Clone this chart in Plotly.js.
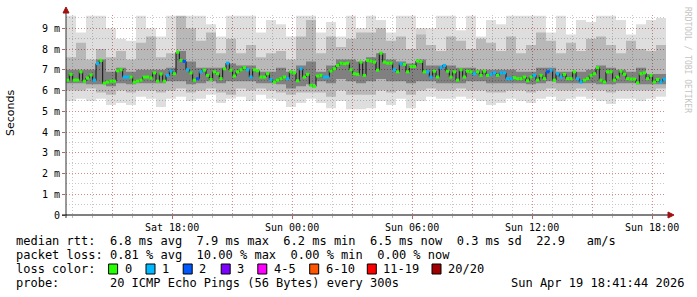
<!DOCTYPE html>
<html><head><meta charset="utf-8">
<script src="https://cdn.plot.ly/plotly-3.0.1.min.js"></script>
<style>html,body{margin:0;padding:0;background:#fff}#chart{width:697px;height:297px}</style>
</head><body><div id="chart"></div>
<script>
// ---- data ----
const startTime = Date.UTC(2026,3,18,12,41,44);
const endTime = Date.UTC(2026,3,19,18,41,44);
const medianStepMs = 600000;   // 10 min
const smokeStepMs = 1800000;   // 30 min

const medianRtt = [
 6.5,6.78,6.5,6.5,6.9,6.45,6.6,6.75,6.5,7.3,
 7.45,6.35,6.4,6.45,6.45,6.95,7.0,6.65,6.65,6.65,
 6.4,6.45,6.5,6.65,6.65,6.6,6.85,6.45,6.8,6.45,
 6.73,6.94,6.81,7.85,7.45,7.4,7.0,6.85,6.5,6.57,
 6.9,6.98,6.73,6.53,6.9,6.81,6.57,7.05,7.32,6.98,
 6.7,6.9,7.0,7.1,7.0,6.65,7.0,6.95,6.65,6.65,
 6.81,6.53,6.41,6.5,6.57,6.65,6.57,6.9,6.85,6.47,
 7.05,6.65,6.78,6.25,6.2,6.7,6.73,6.65,6.65,6.94,
 7.05,7.21,7.32,7.29,7.32,7.0,6.81,6.78,7.37,6.73,
 7.45,7.42,7.37,6.98,7.8,7.37,7.32,7.32,7.0,6.9,
 7.29,7.26,6.9,7.16,7.16,7.42,7.4,6.9,6.9,6.65,
 6.93,6.65,7.1,7.21,6.93,6.65,6.9,6.5,7.0,6.65,
 6.93,6.9,6.81,6.9,6.73,6.93,6.73,6.78,6.85,6.73,
 6.85,6.85,6.57,6.57,6.62,6.57,6.57,6.65,6.47,6.65,
 6.73,6.5,6.73,6.57,6.9,6.98,6.5,6.81,6.65,6.78,
 6.57,6.57,6.9,6.57,6.41,6.5,6.57,6.73,6.81,7.1,
 6.5,6.41,6.9,6.9,6.5,6.65,6.93,6.78,6.57,6.55,
 6.55,6.37,6.81,6.85,6.57,6.73,6.41,6.53,6.41,6.55
];
const lossCount = [
 0,0,0,0,0,0,0,0,1,1,
 0,0,0,0,0,0,0,1,1,0,
 0,0,0,0,0,0,0,0,0,0,
 1,1,0,0,0,2,1,0,0,2,
 1,0,0,0,0,0,0,0,1,0,
 0,0,0,0,1,1,0,0,0,0,
 0,1,0,0,0,0,1,0,0,0,
 1,0,0,0,0,0,0,1,1,0,
 0,0,0,0,0,0,0,0,0,0,
 0,0,0,0,0,0,0,0,1,0,
 1,0,0,0,0,0,0,0,1,1,
 0,0,1,1,0,0,0,0,0,0,
 0,0,1,0,0,0,0,1,1,0,
 1,1,1,1,0,0,0,0,0,0,
 1,0,0,0,2,1,0,1,1,0,
 0,0,0,1,1,0,0,0,0,0,
 0,0,0,0,0,0,0,0,0,0,
 0,0,0,0,0,0,0,0,1,1
];
const smokeMax = [
 9.6,8.8,9.6,9.6,9.0,8.5,8.4,9.6,9.0,8.6,
 9.6,9.6,9.6,9.6,9.2,8.6,9.6,9.6,9.6,8.8,
 9.4,9.2,8.6,9.6,9.6,8.8,9.3,8.6,9.6,9.0,
 9.6,9.4,8.8,9.6,9.6,8.7,9.0,9.6,9.6,8.9,
 9.6,8.6,9.4,9.2,9.6,9.6,9.6,9.6,8.8,9.6,
 8.7,9.4,9.3,9.6,9.6,9.4,8.7,9.2,9.4,9.5
];
const smokeHi2 = [
 7.6,8.3,7.5,8.0,7.6,7.9,7.5,8.3,8.6,7.6,
 7.8,9.6,9.0,8.4,8.8,7.8,8.5,7.8,8.2,7.6,
 7.8,7.9,7.5,8.6,9.4,7.8,8.6,8.1,8.5,8.8,
 8.8,9.0,8.4,8.6,8.0,9.0,8.2,7.9,8.6,8.4,
 8.0,8.5,8.3,7.9,8.6,7.8,8.2,8.8,8.4,7.8,
 8.3,7.9,8.5,8.6,8.2,7.8,8.4,8.0,7.9,8.2
];
const smokeHi1 = [
 7.0,7.0,7.0,7.5,6.9,7.1,6.9,7.0,7.0,7.0,
 7.1,7.9,7.4,7.1,7.1,7.1,7.3,7.2,7.2,6.9,
 6.9,7.1,6.9,7.2,7.4,6.9,7.2,7.5,7.5,7.4,
 7.6,7.8,7.5,7.4,7.3,7.5,7.2,7.2,7.2,7.1,
 7.1,7.0,7.0,7.0,7.0,6.9,6.9,7.1,7.1,6.9,
 6.9,6.9,7.0,7.2,7.1,7.0,6.9,7.1,6.8,6.8
];
const smokeLo1 = [
 6.35,6.35,6.3,6.3,6.2,6.35,6.3,6.35,6.35,6.35,
 6.45,6.45,6.3,6.35,6.45,6.35,6.45,6.45,6.45,6.35,
 6.35,6.3,6.1,6.2,6.3,6.45,6.35,6.55,6.45,6.35,
 6.45,6.55,6.45,6.45,6.35,6.45,6.45,6.35,6.35,6.35,
 6.45,6.45,6.35,6.35,6.35,6.35,6.3,6.35,6.45,6.35,
 6.35,6.35,6.35,6.3,6.3,6.35,6.35,6.3,6.3,6.3
];
const smokeLo2 = [
 6.0,6.0,6.1,5.9,5.8,6.0,5.9,6.0,6.0,5.9,
 6.0,6.1,5.9,6.0,6.1,5.9,5.8,6.1,6.0,6.1,
 6.0,5.9,5.8,5.9,5.9,5.9,5.7,6.0,5.8,5.8,
 5.8,6.0,5.9,6.0,5.8,6.0,6.1,6.0,6.0,6.1,
 6.0,6.0,5.9,5.9,6.0,6.0,5.9,6.0,6.1,6.0,
 6.0,6.1,6.0,6.0,5.9,6.0,6.0,6.0,6.0,6.1
];
const smokeMin = [
 5.5,5.6,5.5,5.6,5.3,5.4,5.3,5.7,5.6,5.2,
 5.6,5.7,5.5,5.6,5.8,5.4,5.6,5.7,5.5,5.8,
 5.6,5.5,5.2,5.4,5.6,5.4,5.15,5.5,5.1,5.1,
 5.15,5.5,5.3,5.6,5.15,5.5,5.7,5.6,5.6,5.7,
 5.6,5.5,5.3,5.4,5.6,5.5,5.4,5.6,5.7,5.5,
 5.6,5.7,5.6,5.5,5.35,5.6,5.6,5.5,5.6,5.7
];

const xTickTimes = ['2026-04-18 15:00','2026-04-18 18:00','2026-04-18 21:00','2026-04-19 00:00','2026-04-19 03:00','2026-04-19 06:00','2026-04-19 09:00','2026-04-19 12:00','2026-04-19 15:00','2026-04-19 18:00'];
const xTickLabels = ['','Sat 18:00','','Sun 00:00','','Sun 06:00','','Sun 12:00','','Sun 18:00'];
const yTickValues = [0,1,2,3,4,5,6,7,8,9];
const yTickLabels = ['0','1 m','2 m','3 m','4 m','5 m','6 m','7 m','8 m','9 m'];
const lossLabels = ['0','1','2','3','4-5','6-10','11-19','20/20'];
const lossColors = ['#26ff00','#00b8ff','#0059ff','#7e00ff','#ff00ff','#ff5500','#ff0000','#a10000'];
const statsLine1 = 'median rtt:  6.8 ms avg  7.9 ms max  6.2 ms min  6.5 ms now  0.3 ms sd  22.9   am/s';
const statsLine2 = 'packet loss: 0.81 % avg  10.00 % max  0.00 % min  0.00 % now';
const statsLine3 = 'loss color:';
const statsLine4 = 'probe:       20 ICMP Echo Pings (56 Bytes) every 300s';
const stampText = 'Sun Apr 19 18:41:44 2026';

// ---- build ----
const W = 697, H = 297, L = 66, R = 31, T = 15, B = 82;
const PW = W - L - R, PH = H - T - B;
const px = x => (x - L) / PW;
const py = y => (H - B - y) / PH;
const nb = s => s.replace(/ /g, '\u00a0');

const medT = medianRtt.map((_, i) => startTime + i * medianStepMs).concat([endTime]);
const smokeT = smokeMax.map((_, i) => startTime + i * smokeStepMs).concat([endTime]);
const ext = a => a.concat([a[a.length - 1]]);

const traces = [];
function band(lo, hi, fillcolor) {
  traces.push({x: smokeT, y: ext(lo), mode: 'lines', line: {width: 0, shape: 'hv'}, hoverinfo: 'skip', showlegend: false});
  traces.push({x: smokeT, y: ext(hi), mode: 'lines', line: {width: 0, shape: 'hv'}, fill: 'tonexty', fillcolor: fillcolor, hoverinfo: 'skip', showlegend: false});
}
band(smokeMin, smokeMax, 'rgba(0,0,0,0.13)');
band(smokeLo2, smokeHi2, 'rgba(0,0,0,0.17)');
band(smokeLo1, smokeHi1, 'rgba(0,0,0,0.30)');

traces.push({x: medT, y: ext(medianRtt), mode: 'lines', line: {color: '#111', width: 1, shape: 'hv'}, hoverinfo: 'skip', showlegend: false});

function bucket(n) { if (n <= 3) return n; if (n <= 5) return 4; if (n <= 10) return 5; if (n <= 19) return 6; return 7; }
lossColors.forEach((col, b) => {
  const xs = [], ys = [];
  medianRtt.forEach((v, i) => {
    if (bucket(lossCount[i]) === b) { xs.push(medT[i], medT[i + 1], null); ys.push(v, v, null); }
  });
  if (xs.length) traces.push({x: xs, y: ys, mode: 'lines', line: {color: col, width: 3}, hoverinfo: 'skip', showlegend: false, connectgaps: false});
});

const minorTimes = [];
for (let h = 13; h <= 42; h++) {
  const d = new Date(Date.UTC(2026,3,18,h,0,0));
  minorTimes.push(d.toISOString().slice(0,16).replace('T',' '));
}

const mono = 'DejaVu Sans Mono';
const annotations = [];
function txt(x, y, text, opts) {
  annotations.push(Object.assign({xref: 'paper', yref: 'paper', x: px(x), y: py(y), text: nb(text), showarrow: false, xanchor: 'left', yanchor: 'middle', font: {family: mono, size: 12, color: '#000'}, borderpad: 0}, opts || {}));
}
txt(15, 241, statsLine1);
txt(15, 255, statsLine2);
txt(15, 269, statsLine3);
txt(15, 283, statsLine4);
txt(685, 283, stampText, {xanchor: 'right'});
annotations.push({xref: 'paper', yref: 'paper', x: px(10), y: py(113), xanchor: 'center', yanchor: 'middle', text: 'Seconds', textangle: -90, showarrow: false, font: {family: 'DejaVu Sans', size: 11, color: '#000'}});
annotations.push({xref: 'paper', yref: 'paper', x: px(687), y: py(60), xanchor: 'center', yanchor: 'middle', text: nb('RRDTOOL / TOBI OETIKER'), textangle: 90, showarrow: false, font: {family: mono, size: 8, color: '#c4c4c4'}});

const swatchX = [108.6, 146, 183.2, 221.2, 257.8, 309.7, 367.3, 432];
const shapes = [];
lossLabels.forEach((lab, i) => {
  const sx = swatchX[i];
  shapes.push({type: 'rect', xref: 'paper', yref: 'paper', x0: px(sx), x1: px(sx + 9), y0: py(274), y1: py(264), fillcolor: lossColors[i], line: {color: '#000', width: 1}});
  txt(sx + 15, 269, lab);
});
// axis extensions and arrows
shapes.push({type: 'line', xref: 'paper', yref: 'paper', x0: 0, x1: 0, y0: py(218), y1: py(10), line: {color: '#333', width: 1}});
shapes.push({type: 'line', xref: 'paper', yref: 'paper', x0: px(62), x1: px(670), y0: 0, y1: 0, line: {color: '#000', width: 1}});
shapes.push({type: 'path', xref: 'paper', yref: 'paper', path: `M ${px(63)} ${py(13)} L ${px(69)} ${py(13)} L ${px(66)} ${py(7)} Z`, fillcolor: '#a01010', line: {color: '#a01010', width: 1}});
shapes.push({type: 'path', xref: 'paper', yref: 'paper', path: `M ${px(668)} ${py(212)} L ${px(668)} ${py(218)} L ${px(674)} ${py(215)} Z`, fillcolor: '#a01010', line: {color: '#a01010', width: 1}});

const layout = {
  width: W, height: H,
  margin: {l: L, r: R, t: T, b: B, pad: 0},
  paper_bgcolor: '#fff', plot_bgcolor: '#fff',
  showlegend: false,
  xaxis: {
    type: 'date', range: [startTime, endTime],
    tickmode: 'array', tickvals: xTickTimes, ticktext: xTickLabels,
    showgrid: true, gridcolor: 'rgba(220,90,90,0.55)', griddash: '1px,2px', gridwidth: 1,
    ticks: 'outside', ticklen: 3, tickcolor: '#c06060',
    minor: {tickmode: 'array', tickvals: minorTimes, showgrid: true, gridcolor: '#c8c8c8', griddash: '1px,2px', ticks: 'outside', ticklen: 2, tickcolor: '#bbb'},
    showline: false, zeroline: false,
    tickfont: {family: mono, size: 10, color: '#000'},
    fixedrange: true
  },
  yaxis: {
    range: [0, 9.64],
    tickmode: 'array', tickvals: yTickValues, ticktext: yTickLabels,
    showgrid: true, gridcolor: 'rgba(220,90,90,0.55)', griddash: '1px,2px', gridwidth: 1,
    ticks: 'outside', ticklen: 3, tickcolor: '#c06060',
    minor: {dtick: 0.5, showgrid: true, gridcolor: '#c8c8c8', griddash: '1px,2px'},
    showline: false, zeroline: false,
    tickfont: {family: mono, size: 10, color: '#000'},
    fixedrange: true
  },
  shapes: shapes,
  annotations: annotations
};
Plotly.newPlot('chart', traces, layout, {displayModeBar: false, staticPlot: true});
</script>
</body></html>
